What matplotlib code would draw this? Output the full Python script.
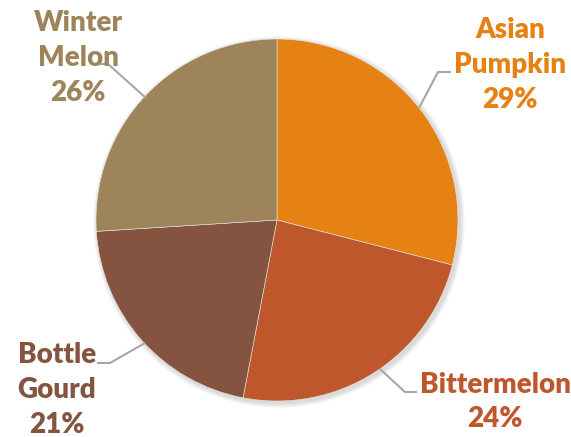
import matplotlib.pyplot as plt
from matplotlib.patches import Circle

labels = ["Asian\nPumpkin", "Bittermelon", "Bottle\nGourd", "Winter\nMelon"]
shares = [29, 24, 21, 26]
colors = ["#E58213", "#BE582C", "#845440", "#9E845A"]

# label text centre (px from top-left) and leader line points
label_pos = [(510, 65), (495, 402), (57, 390), (78, 58)]
leaders = [
    [(451, 72), (438, 72), (419, 108)],
    [(417, 392), (405, 392), (380, 369)],
    [(97, 363), (110, 363), (145, 343)],
    [(97, 64), (108, 64), (146, 98)],
]

W, H = 571, 437
cx, cy, r = 277, H - 220, 181

fig = plt.figure(figsize=(W / 100, H / 100), dpi=100)
ax = fig.add_axes([0, 0, 1, 1])

# soft shadow behind the pie
for i in range(6):
    ax.add_patch(Circle((cx + 2, cy - 2), r + 1 + i * 0.8, color="black",
                        alpha=0.025, lw=0, zorder=0))

ax.pie(shares, colors=colors, startangle=90, counterclock=False,
       center=(cx, cy), radius=r, frame=True,
       wedgeprops=dict(linewidth=0.4, edgecolor="#e6e6e6"))
ax.set_xlim(0, W)
ax.set_ylim(0, H)
ax.set_aspect("equal")
ax.axis("off")

for lab, val, col, (x, y), pts in zip(labels, shares, colors, label_pos, leaders):
    xs = [p[0] for p in pts]
    ys = [H - p[1] for p in pts]
    ax.plot(xs, ys, color="#A6A6A6", lw=1.5, solid_capstyle="butt")
    ax.text(x, H - y, f"{lab}\n{val}%", ha="center", va="center",
            color=col, fontsize=20, fontweight="heavy", family="Lato",
            linespacing=1.42)

fig.savefig("out.png", dpi=100)
